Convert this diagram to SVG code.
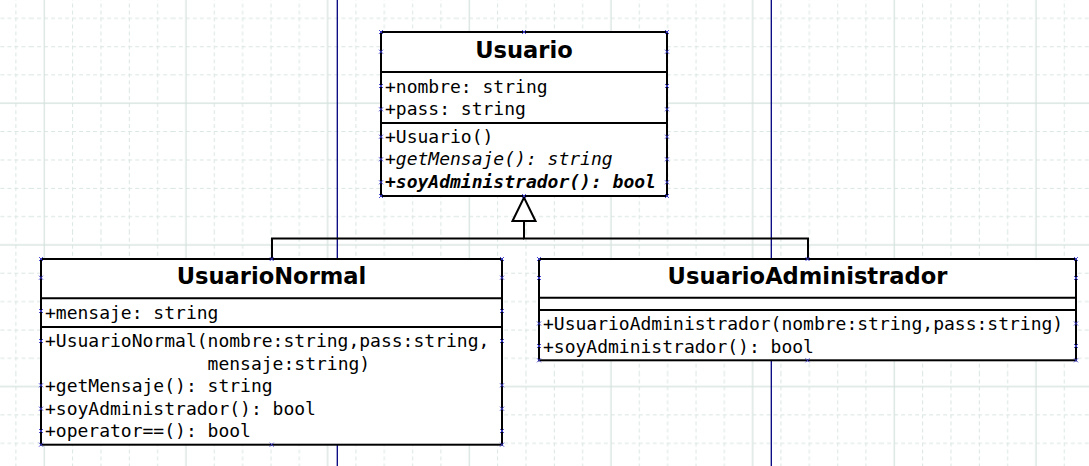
<svg xmlns="http://www.w3.org/2000/svg" xmlns:xlink="http://www.w3.org/1999/xlink" width="1089" height="466" viewBox="0 0 1089 466">
<style>
.box{fill:#fff;stroke:#000;stroke-width:2}
.div{stroke:#000;stroke-width:2}
.title{font-family:"DejaVu Sans","Liberation Sans",sans-serif;font-weight:bold;font-size:22.6px;text-anchor:middle;fill:#000}
.mem{font-family:"DejaVu Sans Mono","Liberation Mono",monospace;font-size:18px;fill:#000}
.it{font-style:italic}
.bi{font-style:italic;font-weight:bold}
.edge{fill:none;stroke:#000;stroke-width:2}
.page{stroke:#000080;stroke-width:1.3}
.cp{stroke:#3a3ad0;stroke-width:0.9;fill:none}
</style>
<defs>
<pattern id="grid" patternUnits="userSpaceOnUse" x="30.13" y="89.13" width="141.67" height="141.67">
<g stroke="#d9e6e2" stroke-width="1" stroke-dasharray="4 3" fill="none">
<line x1="42.5" y1="0" x2="42.5" y2="141.67"/>
<line x1="70.83" y1="0" x2="70.83" y2="141.67"/>
<line x1="99.17" y1="0" x2="99.17" y2="141.67"/>
<line x1="127.5" y1="0" x2="127.5" y2="141.67"/>
<line x1="0" y1="42.5" x2="141.67" y2="42.5"/>
<line x1="0" y1="70.83" x2="141.67" y2="70.83"/>
<line x1="0" y1="99.17" x2="141.67" y2="99.17"/>
<line x1="0" y1="127.5" x2="141.67" y2="127.5"/>
</g>
<g stroke="#d3e1dc" stroke-width="1.2">
<line x1="14.17" y1="0" x2="14.17" y2="141.67"/>
<line x1="0" y1="14.17" x2="141.67" y2="14.17"/>
</g>
</pattern>
<marker id="inh" markerUnits="userSpaceOnUse" viewBox="-26 -13 28 26" markerWidth="28" markerHeight="26" refX="0" refY="0" orient="auto">
<path d="M-23.5,-11.5 L0,0 L-23.5,11.5 Z" fill="#fff" stroke="#000" stroke-width="2"/>
</marker>
<path id="cpm" class="cp" d="M-2,-2 L2,2 M-2,2 L2,-2"/>
</defs>
<rect width="1089" height="466" fill="#fff"/>
<rect width="1089" height="466" fill="url(#grid)"/>
<g id="pagebreaks">
<line class="page" x1="337.3" y1="0" x2="337.3" y2="466"/>
<line class="page" x1="771.3" y1="0" x2="771.3" y2="466"/>
</g>
<g id="connectors">
<polyline class="edge" points="272,259 272,238.5 524,238.5"/>
<polyline class="edge" points="808,259 808,238.5 524,238.5 524,197.5" marker-end="url(#inh)"/>
</g>
<g id="Usuario">
<rect class="box" x="381" y="32" width="286" height="164"/>
<line class="div" x1="381" y1="72" x2="667" y2="72"/>
<line class="div" x1="381" y1="123" x2="667" y2="123"/>
<text class="title" x="524" y="58.3">Usuario</text>
<text class="mem" x="385" y="92.7">+nombre: string</text>
<text class="mem" x="385" y="115.3">+pass: string</text>
<text class="mem" x="385" y="142.7">+Usuario()</text>
<text class="mem it" x="385" y="165.2">+getMensaje(): string</text>
<text class="mem bi" x="385" y="187.7">+soyAdministrador(): bool</text>
<g>
<use href="#cpm" x="381" y="32"/><use href="#cpm" x="381" y="51.7"/><use href="#cpm" x="381" y="86"/><use href="#cpm" x="381" y="109.3"/><use href="#cpm" x="381" y="136.7"/><use href="#cpm" x="381" y="159.3"/><use href="#cpm" x="381" y="182.3"/><use href="#cpm" x="381" y="196"/>
<use href="#cpm" x="667" y="32"/><use href="#cpm" x="667" y="51.7"/><use href="#cpm" x="667" y="86"/><use href="#cpm" x="667" y="109.3"/><use href="#cpm" x="667" y="136.7"/><use href="#cpm" x="667" y="159.3"/><use href="#cpm" x="667" y="182.3"/><use href="#cpm" x="667" y="196"/>
<use href="#cpm" x="524" y="32"/><use href="#cpm" x="524" y="196"/>
</g>
</g>
<g id="UsuarioNormal">
<rect class="box" x="41" y="259" width="461" height="185.7"/>
<line class="div" x1="41" y1="298.3" x2="502" y2="298.3"/>
<line class="div" x1="41" y1="327" x2="502" y2="327"/>
<text class="title" x="271.5" y="284">UsuarioNormal</text>
<text class="mem" x="45" y="318.5">+mensaje: string</text>
<text class="mem" x="45" y="347.3">+UsuarioNormal(nombre:string,pass:string,</text>
<text class="mem" x="207.6" y="369.7">mensaje:string)</text>
<text class="mem" x="45" y="392.1">+getMensaje(): string</text>
<text class="mem" x="45" y="414.5">+soyAdministrador(): bool</text>
<text class="mem" x="45" y="436.9">+operator==(): bool</text>
<g>
<use href="#cpm" x="41" y="259"/><use href="#cpm" x="41" y="277.7"/><use href="#cpm" x="41" y="311"/><use href="#cpm" x="41" y="341"/><use href="#cpm" x="41" y="385.3"/><use href="#cpm" x="41" y="408.7"/><use href="#cpm" x="41" y="431"/><use href="#cpm" x="41" y="444.7"/>
<use href="#cpm" x="502" y="259"/><use href="#cpm" x="502" y="277.7"/><use href="#cpm" x="502" y="311"/><use href="#cpm" x="502" y="341"/><use href="#cpm" x="502" y="385.3"/><use href="#cpm" x="502" y="408.7"/><use href="#cpm" x="502" y="431"/><use href="#cpm" x="502" y="444.7"/>
<use href="#cpm" x="271.7" y="259"/><use href="#cpm" x="271.7" y="444.7"/>
</g>
</g>
<g id="UsuarioAdministrador">
<rect class="box" x="539" y="259" width="537" height="101.3"/>
<line class="div" x1="539" y1="297.7" x2="1076" y2="297.7"/>
<line class="div" x1="539" y1="310" x2="1076" y2="310"/>
<text class="title" x="807.5" y="284">UsuarioAdministrador</text>
<text class="mem" x="543" y="330.3">+UsuarioAdministrador(nombre:string,pass:string)</text>
<text class="mem" x="543" y="352.7">+soyAdministrador(): bool</text>
<g>
<use href="#cpm" x="539" y="259"/><use href="#cpm" x="539" y="278"/><use href="#cpm" x="539" y="323.5"/><use href="#cpm" x="539" y="346"/><use href="#cpm" x="539" y="360.3"/>
<use href="#cpm" x="1076" y="259"/><use href="#cpm" x="1076" y="278"/><use href="#cpm" x="1076" y="323.5"/><use href="#cpm" x="1076" y="346"/><use href="#cpm" x="1076" y="360.3"/>
<use href="#cpm" x="807.5" y="259"/><use href="#cpm" x="807.5" y="360.3"/>
</g>
</g>
</svg>
